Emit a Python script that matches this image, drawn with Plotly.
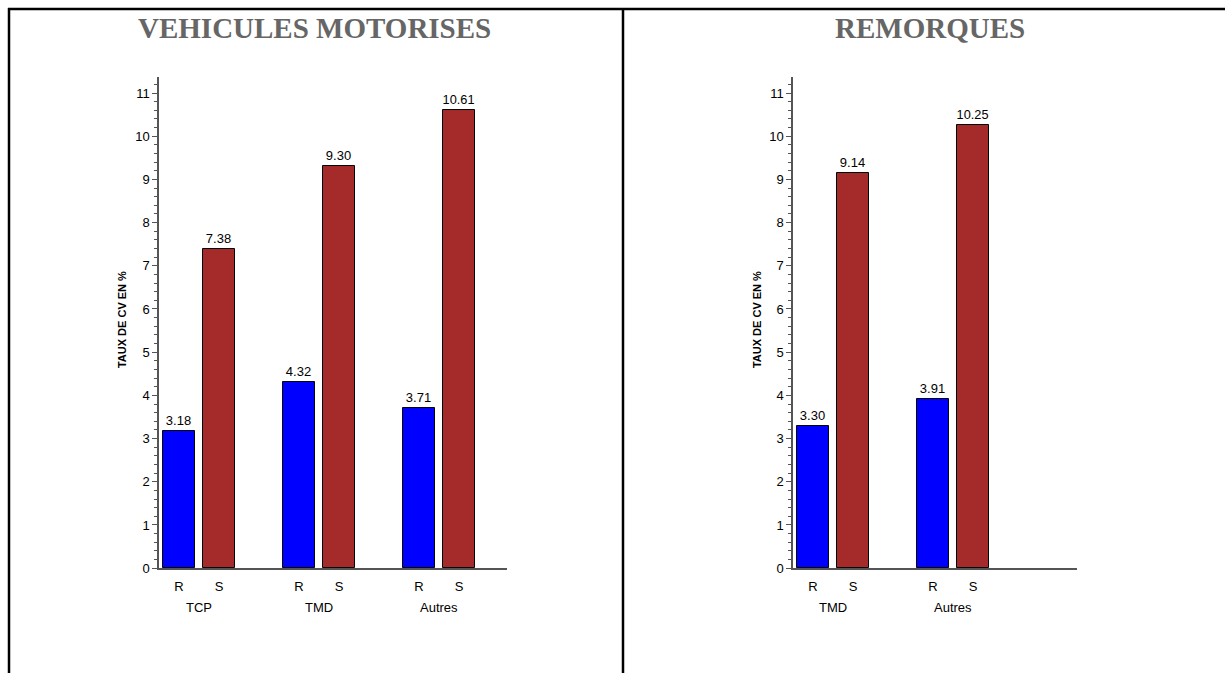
import plotly.graph_objects as go

# ---- data ----
left_groups = ["TCP", "TMD", "Autres"]
left_R = [3.18, 4.32, 3.71]
left_S = [7.38, 9.30, 10.61]

right_groups = ["TMD", "Autres"]
right_R = [3.30, 3.91]
right_S = [9.14, 10.25]

series_names = ["R", "S"]
titles = ["VEHICULES MOTORISES", "REMORQUES"]
y_title = "TAUX DE CV EN %"

W = 1225
KY = 0.988  # vertical compensation for the capture
H = 682
BLUE = "#0000FF"
BROWN = "#A52A2A"
PITCH = 3.0
OFFS = [0.5, 1.5]
BW = 0.8
FONT = "Liberation Sans, Arial"

def px_x(p):
    return p / W

def px_y(p):
    return max(0.0, 1 - (p / KY) / H)

fig = go.Figure()

panels = [
    (left_groups, left_R, left_S, "x", "y", (159, 507), 8.7),
    (right_groups, right_R, right_S, "x2", "y2", (793, 1077), 7.1),
]

annotations = []
for gi, (groups, rv, sv, xa, ya, (x0, x1), xmax) in enumerate(panels):
    tickvals, ticktext = [], []
    for si, (vals, col) in enumerate([(rv, BLUE), (sv, BROWN)]):
        xs = [g * PITCH + OFFS[si] for g in range(len(groups))]
        tickvals += xs
        ticktext += [series_names[si]] * len(xs)
        fig.add_trace(go.Bar(
            x=xs, y=vals, width=BW, marker=dict(color=col, line=dict(color="black", width=1)),
            text=[f"{v:.2f}" for v in vals], textposition="outside",
            textfont=dict(family=FONT, size=13, color="black"),
            cliponaxis=False, xaxis=xa, yaxis=ya, showlegend=False, hoverinfo="skip"))
    for g, name in enumerate(groups):
        annotations.append(dict(x=g * PITCH + 1.0, y=px_y(607), xref=xa, yref="paper",
                                xanchor="center", yanchor="middle",
                                text=name, showarrow=False,
                                font=dict(family=FONT, size=13, color="black")))
    xkey = "xaxis" if gi == 0 else "xaxis2"
    ykey = "yaxis" if gi == 0 else "yaxis2"
    fig.update_layout(**{
        xkey: dict(domain=[px_x(x0), px_x(x1)], range=[0, xmax], anchor=ya,
                   tickvals=tickvals, ticktext=ticktext, ticks="", showgrid=False,
                   zeroline=False, showline=True, linecolor="#555555", linewidth=1.5,
                   tickfont=dict(family=FONT, size=13, color="black"),
                   ticklabelstandoff=5),
        ykey: dict(domain=[px_y(568), px_y(77)], range=[0, 11.37], anchor=xa,
                   dtick=1, tick0=0, ticks="outside", ticklen=5, tickcolor="#555555", tickwidth=1,
                   minor=dict(dtick=0.2, ticks="outside", ticklen=3, tickcolor="#555555", tickwidth=1),
                   showgrid=False, zeroline=False, showline=True, linecolor="#555555", linewidth=1.5,
                   tickfont=dict(family=FONT, size=13, color="black")),
    })
    # axis title
    annotations.append(dict(x=px_x(122 if gi == 0 else 757), y=px_y(320), xref="paper", yref="paper",
                            xanchor="center", yanchor="middle",
                            text=f"<b>{y_title}</b>", textangle=-90, showarrow=False,
                            font=dict(family=FONT, size=11, color="black")))

# panel titles
for tx, t in zip([315, 930], titles):
    annotations.append(dict(x=px_x(tx), y=px_y(28), xref="paper", yref="paper", text=f"<b>{t}</b>",
                            xanchor="center", yanchor="middle", showarrow=False,
                            font=dict(family="Liberation Serif, Times New Roman", size=29, color="#666666")))

shapes = [
    dict(type="line", xref="paper", yref="paper", x0=px_x(8), x1=1, y0=px_y(9), y1=px_y(9),
         line=dict(color="black", width=2.5)),
    dict(type="line", xref="paper", yref="paper", x0=px_x(9), x1=px_x(9), y0=px_y(8), y1=0,
         line=dict(color="black", width=2.5)),
    dict(type="line", xref="paper", yref="paper", x0=px_x(623), x1=px_x(623), y0=px_y(8), y1=0,
         line=dict(color="black", width=2.5)),
]

fig.update_layout(width=W, height=H, margin=dict(l=0, r=0, t=0, b=0),
                  paper_bgcolor="white", plot_bgcolor="white",
                  annotations=annotations, shapes=shapes, bargap=0)

fig.write_html("out.html", config={"displayModeBar": False},
               post_script="document.body.style.margin='0px';document.body.style.overflow='hidden';")
